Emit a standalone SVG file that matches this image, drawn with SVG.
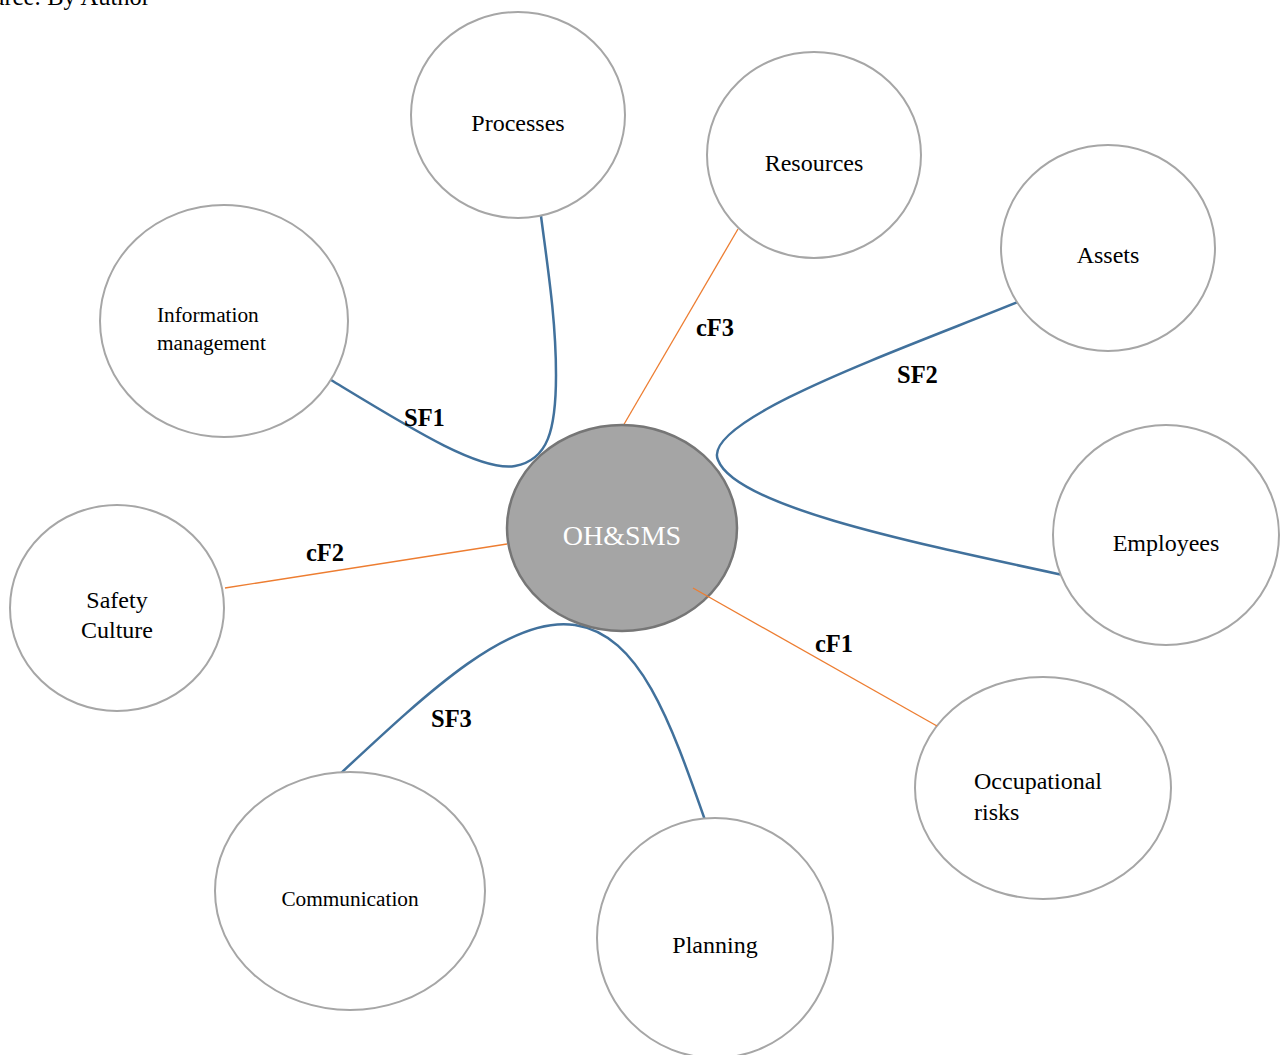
<svg xmlns="http://www.w3.org/2000/svg" width="1286" height="1055" viewBox="0 0 1286 1055">
  <style>
    .node { fill: #ffffff; stroke: #a6a6a6; stroke-width: 2; }
    .hub { fill: #a5a5a5; stroke: #767676; stroke-width: 2.5; }
    .t { font-family: "Liberation Serif", "Times New Roman", serif; font-size: 24px; fill: #000; }
    .ts { font-family: "Liberation Serif", "Times New Roman", serif; font-size: 21.3px; fill: #000; }
    .mid { text-anchor: middle; }
    .lbl { font-family: "Liberation Serif", "Times New Roman", serif; font-size: 24.5px; font-weight: bold; fill: #000; }
    .sf { fill: none; stroke: #41719c; stroke-width: 2.5; }
    .cf { fill: none; stroke: #ed7d31; stroke-width: 1.3; }
  </style>
  <rect width="1286" height="1055" fill="#ffffff"/>
  <text class="t" x="150" y="5" text-anchor="end" style="font-size:24.5px">Source: By Author</text>

  <!-- links from the hub to the surrounding factors -->
  <g id="connectors">
    <path class="sf" d="M331,380 C410,428 480,472 515,466 C548,460 556,430 556,375 C556,320 548,270 541,216"/>
    <path class="sf" d="M1018,302 C900,350 700,420 718,460 C735,505 900,540 1063,575"/>
    <path class="sf" d="M340,774 C430,690 510,615 575,625 C640,635 670,720 706,823"/>
    <path class="cf" d="M738,229 L623,426"/>
    <path class="cf" d="M225,588 L507,544"/>
  </g>

  <g id="processes"><ellipse class="node" cx="518" cy="115" rx="107" ry="103"/><text class="t mid" x="518" y="131">Processes</text></g>
  <g id="resources"><ellipse class="node" cx="814" cy="155" rx="107" ry="103"/><text class="t mid" x="814" y="171">Resources</text></g>
  <g id="assets"><ellipse class="node" cx="1108" cy="248" rx="107" ry="103"/><text class="t mid" x="1108" y="263">Assets</text></g>
  <g id="information-management"><ellipse class="node" cx="224" cy="321" rx="124" ry="116"/><text class="ts" x="157" y="322">Information</text><text class="ts" x="157" y="350">management</text></g>
  <g id="employees"><ellipse class="node" cx="1166" cy="535" rx="113" ry="110"/><text class="t mid" x="1166" y="551">Employees</text></g>
  <g id="safety-culture"><ellipse class="node" cx="117" cy="608" rx="107" ry="103"/><text class="t mid" x="117" y="608">Safety</text><text class="t mid" x="117" y="638">Culture</text></g>
  <g id="occupational-risks"><ellipse class="node" cx="1043" cy="788" rx="128" ry="111"/><text class="t" x="974" y="789">Occupational</text><text class="t" x="974" y="820">risks</text></g>
  <g id="communication"><ellipse class="node" cx="350" cy="891" rx="135" ry="119"/><text class="ts mid" x="350" y="906">Communication</text></g>
  <g id="planning"><ellipse class="node" cx="715" cy="938" rx="118" ry="120"/><text class="t mid" x="715" y="953">Planning</text></g>

  <g id="ohsms"><ellipse class="hub" cx="622" cy="528" rx="115" ry="103"/><text class="t mid" x="622" y="545" style="font-size:28px;fill:#ffffff">OH&amp;SMS</text></g>

  <!-- this link is drawn over the hub -->
  <path class="cf" d="M693,588 L937,726"/>

  <g id="labels">
    <text class="lbl" x="404" y="426">SF1</text>
    <text class="lbl" x="696" y="336">cF3</text>
    <text class="lbl" x="897" y="383">SF2</text>
    <text class="lbl" x="306" y="561">cF2</text>
    <text class="lbl" x="815" y="652">cF1</text>
    <text class="lbl" x="431" y="727">SF3</text>
  </g>
</svg>
